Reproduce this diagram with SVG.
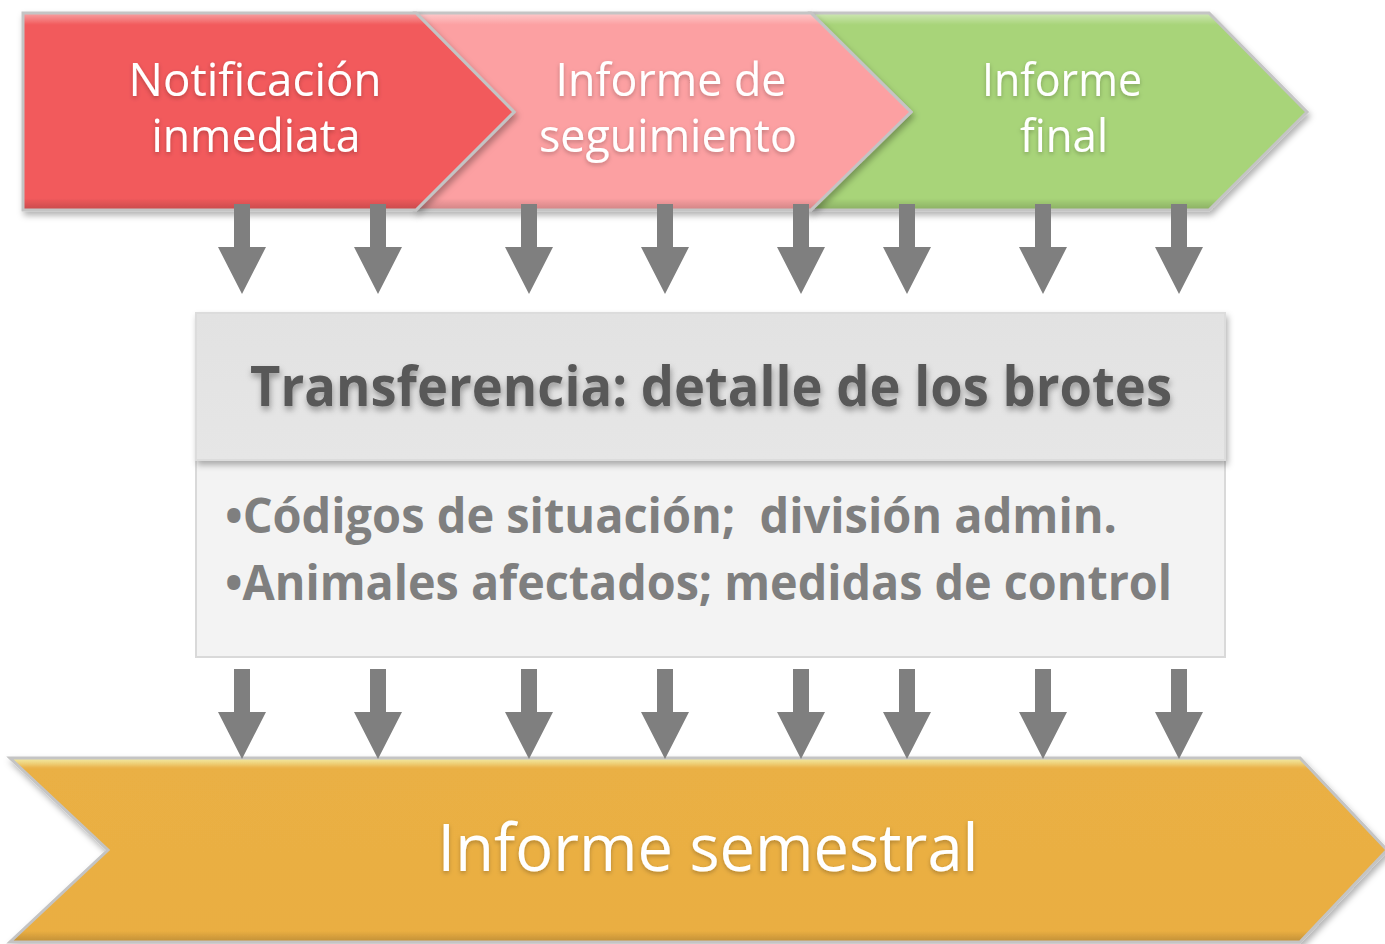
<svg xmlns="http://www.w3.org/2000/svg" width="1385" height="944" viewBox="0 0 1385 944">
<style>
  .lbl { font-family: "Open Sans", "Liberation Sans", sans-serif; fill: #FFFFFF; font-size: 45px; text-anchor: middle; filter: url(#tsh); }
  .big { font-family: "Open Sans", "Liberation Sans", sans-serif; fill: #FFFFFF; font-size: 66px; text-anchor: middle; filter: url(#tsh); }
  .hdr { font-family: "Open Sans", "Liberation Sans", sans-serif; font-weight: bold; fill: #595959; font-size: 56px; filter: url(#hsh); }
  .body { font-family: "Open Sans", "Liberation Sans", sans-serif; font-weight: bold; fill: #7F7F7F; font-size: 49px; }
  .edge { fill: none; stroke: #C4C4C4; stroke-width: 3; stroke-linejoin: miter; }
  .hi { fill: url(#gloss); }
  .arrow { fill: #7F7F7F; }
</style>
<defs>
  <filter id="sh" x="-5%" y="-10%" width="110%" height="125%">
    <feDropShadow dx="2" dy="4" stdDeviation="3" flood-color="#000" flood-opacity="0.3"/>
  </filter>
  <filter id="tsh" x="-5%" y="-20%" width="110%" height="150%">
    <feDropShadow dx="0" dy="2" stdDeviation="2" flood-color="#000" flood-opacity="0.25"/>
  </filter>
  <filter id="hsh" x="-5%" y="-20%" width="110%" height="150%">
    <feDropShadow dx="1" dy="4" stdDeviation="3" flood-color="#000" flood-opacity="0.35"/>
  </filter>
  <linearGradient id="gloss" x1="0" y1="0" x2="0" y2="1">
    <stop offset="0" stop-color="#FFFFFF" stop-opacity="0.45"/>
    <stop offset="0.06" stop-color="#FFFFFF" stop-opacity="0"/>
    <stop offset="0.94" stop-color="#000000" stop-opacity="0"/>
    <stop offset="1" stop-color="#000000" stop-opacity="0.18"/>
  </linearGradient>
  <linearGradient id="hdrg" x1="0" y1="0" x2="0" y2="1">
    <stop offset="0" stop-color="#E2E2E2"/>
    <stop offset="1" stop-color="#E6E6E6"/>
  </linearGradient>
  <linearGradient id="orgg" x1="0" y1="0" x2="0" y2="1">
    <stop offset="0" stop-color="#E8DC62"/>
    <stop offset="0.05" stop-color="#EAB044"/>
    <stop offset="1" stop-color="#EAAE42"/>
  </linearGradient>
</defs>

<g id="node-semestral" filter="url(#sh)">
  <polygon points="10,758 1300,758 1387,850 1300,942 10,942 108,850" fill="url(#orgg)"/>
  <polygon class="hi" points="10,758 1300,758 1387,850 1300,942 10,942 108,850"/>
  <polygon class="edge" points="10,758 1300,758 1387,850 1300,942 10,942 108,850" stroke="#D6D6D6"/>
  <text class="big" x="708" y="871" textLength="541" lengthAdjust="spacingAndGlyphs">Informe semestral</text>
</g>

<g id="node-final" filter="url(#sh)">
  <polygon points="811,13 1209,13 1307,112 1209,210 811,210 911,112" fill="#A8D479"/>
  <polygon class="hi" points="811,13 1209,13 1307,112 1209,210 811,210 911,112"/>
  <polygon class="edge" points="811,13 1209,13 1307,112 1209,210 811,210 911,112"/>
  <text class="lbl" x="1062" y="96" textLength="160" lengthAdjust="spacingAndGlyphs">Informe</text>
  <text class="lbl" x="1064" y="152" textLength="88" lengthAdjust="spacingAndGlyphs">final</text>
</g>

<g id="node-seguimiento" filter="url(#sh)">
  <polygon points="416,13 811,13 911,112 811,210 416,210 514,112" fill="#FCA0A2"/>
  <polygon class="hi" points="416,13 811,13 911,112 811,210 416,210 514,112"/>
  <polygon class="edge" points="416,13 811,13 911,112 811,210 416,210 514,112"/>
  <text class="lbl" x="671" y="96" textLength="231" lengthAdjust="spacingAndGlyphs">Informe de</text>
  <text class="lbl" x="668" y="152" textLength="258" lengthAdjust="spacingAndGlyphs">seguimiento</text>
</g>

<g id="node-notificacion" filter="url(#sh)">
  <polygon points="23,13 416,13 514,112 416,210 23,210" fill="#F25A5C"/>
  <polygon class="hi" points="23,13 416,13 514,112 416,210 23,210"/>
  <polygon class="edge" points="23,13 416,13 514,112 416,210 23,210"/>
  <text class="lbl" x="255" y="96" textLength="253" lengthAdjust="spacingAndGlyphs">Notificación</text>
  <text class="lbl" x="256" y="152" textLength="209" lengthAdjust="spacingAndGlyphs">inmediata</text>
</g>

<g id="node-transferencia">
  <rect x="196" y="460" width="1029" height="197" fill="#F3F3F3" stroke="#D9D9D9" stroke-width="2"/>
  <rect x="196" y="313" width="1029" height="147" fill="url(#hdrg)" stroke="#DCDCDC" stroke-width="2" filter="url(#sh)"/>
  <text class="hdr" x="250" y="406" textLength="922" lengthAdjust="spacingAndGlyphs">Transferencia: detalle de los brotes</text>
  <text class="body" x="225" y="533" textLength="892" lengthAdjust="spacingAndGlyphs" xml:space="preserve">•Códigos de situación;  división admin.</text>
  <text class="body" x="225" y="600" textLength="947" lengthAdjust="spacingAndGlyphs">•Animales afectados; medidas de control</text>
</g>

<g id="connectors">
  <defs>
    <path id="dn" d="M -8 0 H 8 V 43 H 24 L 0 90 L -24 43 H -8 Z"/>
  </defs>
  <use href="#dn" class="arrow" x="242" y="204"/>
  <use href="#dn" class="arrow" x="378" y="204"/>
  <use href="#dn" class="arrow" x="529" y="204"/>
  <use href="#dn" class="arrow" x="665" y="204"/>
  <use href="#dn" class="arrow" x="801" y="204"/>
  <use href="#dn" class="arrow" x="907" y="204"/>
  <use href="#dn" class="arrow" x="1043" y="204"/>
  <use href="#dn" class="arrow" x="1179" y="204"/>
  <use href="#dn" class="arrow" x="242" y="669"/>
  <use href="#dn" class="arrow" x="378" y="669"/>
  <use href="#dn" class="arrow" x="529" y="669"/>
  <use href="#dn" class="arrow" x="665" y="669"/>
  <use href="#dn" class="arrow" x="801" y="669"/>
  <use href="#dn" class="arrow" x="907" y="669"/>
  <use href="#dn" class="arrow" x="1043" y="669"/>
  <use href="#dn" class="arrow" x="1179" y="669"/>
</g>
</svg>
